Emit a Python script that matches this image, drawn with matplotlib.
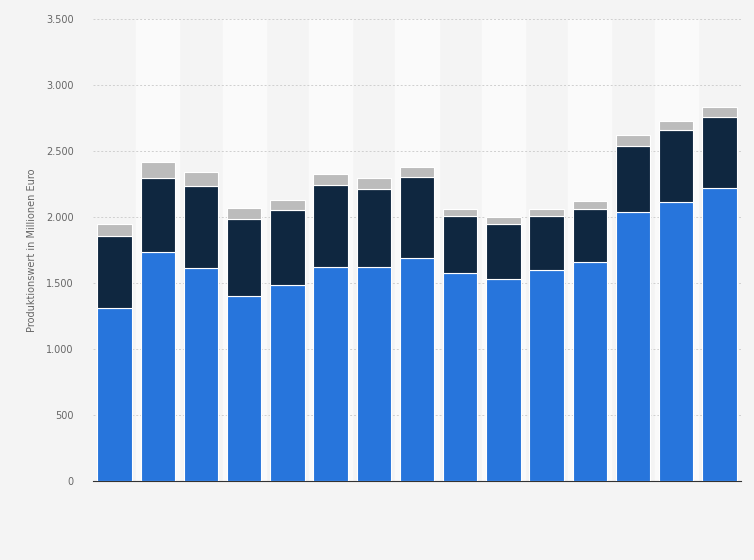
import matplotlib.pyplot as plt
import numpy as np
from matplotlib.ticker import FuncFormatter

blue = [1311,1736,1615,1402,1486,1622,1622,1690,1577,1531,1599,1660,2039,2115,2221]
dark_total = [1857,2297,2236,1986,2054,2244,2213,2304,2009,1948,2009,2060,2539,2661,2759]
grey_total = [1948,2418,2342,2069,2130,2327,2297,2380,2062,2001,2062,2122,2623,2729,2835]

dark = [d-b for d,b in zip(dark_total, blue)]
grey = [g-d for g,d in zip(grey_total, dark_total)]

fig = plt.figure(figsize=(7.54,5.6), dpi=100, facecolor='#f4f4f4')
ax = fig.add_axes([93/754, 79/560, 648/754, 462/560*1.0])
ax.set_position([93/754, 1-481/560, 648/754, 462/560])
ax.set_facecolor('#f4f4f4')
x = np.arange(len(blue))
for i in x:
    if i % 2 == 1:
        ax.axvspan(i-0.5, i+0.5, color='#fafafa', zorder=0)
ax.bar(x, blue, 0.8, color='#2775dc', edgecolor='white', linewidth=0.8, zorder=3)
ax.bar(x, dark, 0.8, bottom=blue, color='#0f2740', edgecolor='white', linewidth=0.8, zorder=3)
ax.bar(x, grey, 0.8, bottom=dark_total, color='#bcbcbc', edgecolor='white', linewidth=0.8, zorder=3)
ax.set_xlim(-0.5, len(blue)-0.5)
ax.set_ylim(0, 3500)
ax.set_yticks(range(0, 3501, 500))
ax.yaxis.set_major_formatter(FuncFormatter(lambda v, p: f"{int(v):,}".replace(',', '.')))
ax.grid(axis='y', color='#cfcfcf', linestyle=(0,(2,2)), linewidth=0.7, zorder=1)
ax.set_xticks([])
for s in ['top','right','left']:
    ax.spines[s].set_visible(False)
ax.spines['bottom'].set_color('#333333')
ax.tick_params(axis='y', length=0, labelsize=7, labelcolor='#666666', pad=14)
ax.set_ylabel('Produktionswert in Millionen Euro', fontsize=7, color='#666666', labelpad=6)
fig.savefig('out.png', dpi=100, facecolor=fig.get_facecolor())
